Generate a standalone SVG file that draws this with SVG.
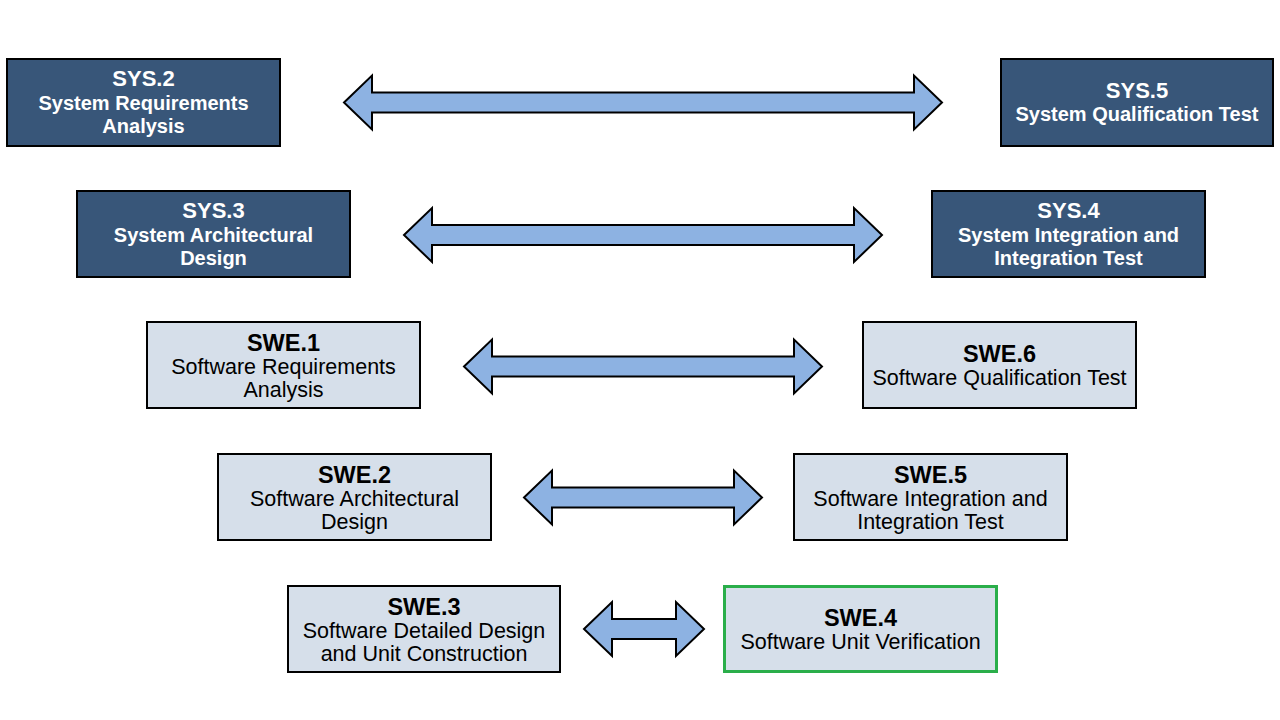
<svg xmlns="http://www.w3.org/2000/svg" width="1280" height="720" viewBox="0 0 1280 720">
<style>
.dk{fill:#385679;stroke:#000;stroke-width:2}
.lt{fill:#D6DFEA;stroke:#000;stroke-width:2}
.gr{fill:#D6DFEA;stroke:#2AAE4A;stroke-width:3}
.ar{fill:#8DB2E2;stroke:#000;stroke-width:2;stroke-linejoin:miter}
text{font-family:"Liberation Sans",Arial,sans-serif;text-anchor:middle}
.wt{fill:#fff;font-weight:bold}
.bk{fill:#000}
.h{font-size:22px;font-weight:bold}
.h2{font-size:23.5px;font-weight:bold}
.s{font-size:20px}
.r{font-size:21.5px}
</style>
<rect width="1280" height="720" fill="#fff"/>
<g id="connectors">
<path class="ar" d="M344 102.5 L372 75.5 L372 92.5 L914 92.5 L914 75.5 L942 102.5 L914 129.5 L914 112.5 L372 112.5 L372 129.5 Z"/>
<path class="ar" d="M404 235 L432 208 L432 225 L854 225 L854 208 L882 235 L854 262 L854 245 L432 245 L432 262 Z"/>
<path class="ar" d="M464 366.5 L492 339.5 L492 356.5 L794 356.5 L794 339.5 L822 366.5 L794 393.5 L794 376.5 L492 376.5 L492 393.5 Z"/>
<path class="ar" d="M524 497.5 L552 470.5 L552 487.5 L734 487.5 L734 470.5 L762 497.5 L734 524.5 L734 507.5 L552 507.5 L552 524.5 Z"/>
<path class="ar" d="M584 629 L612 602 L612 619 L676 619 L676 602 L704 629 L676 656 L676 639 L612 639 L612 656 Z"/>
</g>
<g id="sys2">
<rect class="dk" x="7" y="59" width="273" height="87"/>
<text class="wt h" x="143.5" y="86">SYS.2</text>
<text class="wt s" x="143.5" y="110">System Requirements</text>
<text class="wt s" x="143.5" y="133">Analysis</text>
</g>
<g id="sys5">
<rect class="dk" x="1001" y="59" width="272" height="87"/>
<text class="wt h" x="1137" y="98">SYS.5</text>
<text class="wt s" x="1137" y="121">System Qualification Test</text>
</g>
<g id="sys3">
<rect class="dk" x="77" y="191" width="273" height="86"/>
<text class="wt h" x="213.5" y="218">SYS.3</text>
<text class="wt s" x="213.5" y="242">System Architectural</text>
<text class="wt s" x="213.5" y="265">Design</text>
</g>
<g id="sys4">
<rect class="dk" x="932" y="191" width="273" height="86"/>
<text class="wt h" x="1068.5" y="218">SYS.4</text>
<text class="wt s" x="1068.5" y="242">System Integration and</text>
<text class="wt s" x="1068.5" y="265">Integration Test</text>
</g>
<g id="swe1">
<rect class="lt" x="147" y="322" width="273" height="86"/>
<text class="bk h2" x="283.5" y="351">SWE.1</text>
<text class="bk r" x="283.5" y="374">Software Requirements</text>
<text class="bk r" x="283.5" y="397">Analysis</text>
</g>
<g id="swe6">
<rect class="lt" x="863" y="322" width="273" height="86"/>
<text class="bk h2" x="999.5" y="362">SWE.6</text>
<text class="bk r" x="999.5" y="385">Software Qualification Test</text>
</g>
<g id="swe2">
<rect class="lt" x="218" y="454" width="273" height="86"/>
<text class="bk h2" x="354.5" y="483">SWE.2</text>
<text class="bk r" x="354.5" y="506">Software Architectural</text>
<text class="bk r" x="354.5" y="529">Design</text>
</g>
<g id="swe5">
<rect class="lt" x="794" y="454" width="273" height="86"/>
<text class="bk h2" x="930.5" y="483">SWE.5</text>
<text class="bk r" x="930.5" y="506">Software Integration and</text>
<text class="bk r" x="930.5" y="529">Integration Test</text>
</g>
<g id="swe3">
<rect class="lt" x="288" y="586" width="272" height="86"/>
<text class="bk h2" x="424" y="615">SWE.3</text>
<text class="bk r" x="424" y="638">Software Detailed Design</text>
<text class="bk r" x="424" y="661">and Unit Construction</text>
</g>
<g id="swe4">
<rect class="gr" x="724.5" y="586.5" width="272" height="85"/>
<text class="bk h2" x="860.5" y="626">SWE.4</text>
<text class="bk r" x="860.5" y="649">Software Unit Verification</text>
</g>
</svg>
